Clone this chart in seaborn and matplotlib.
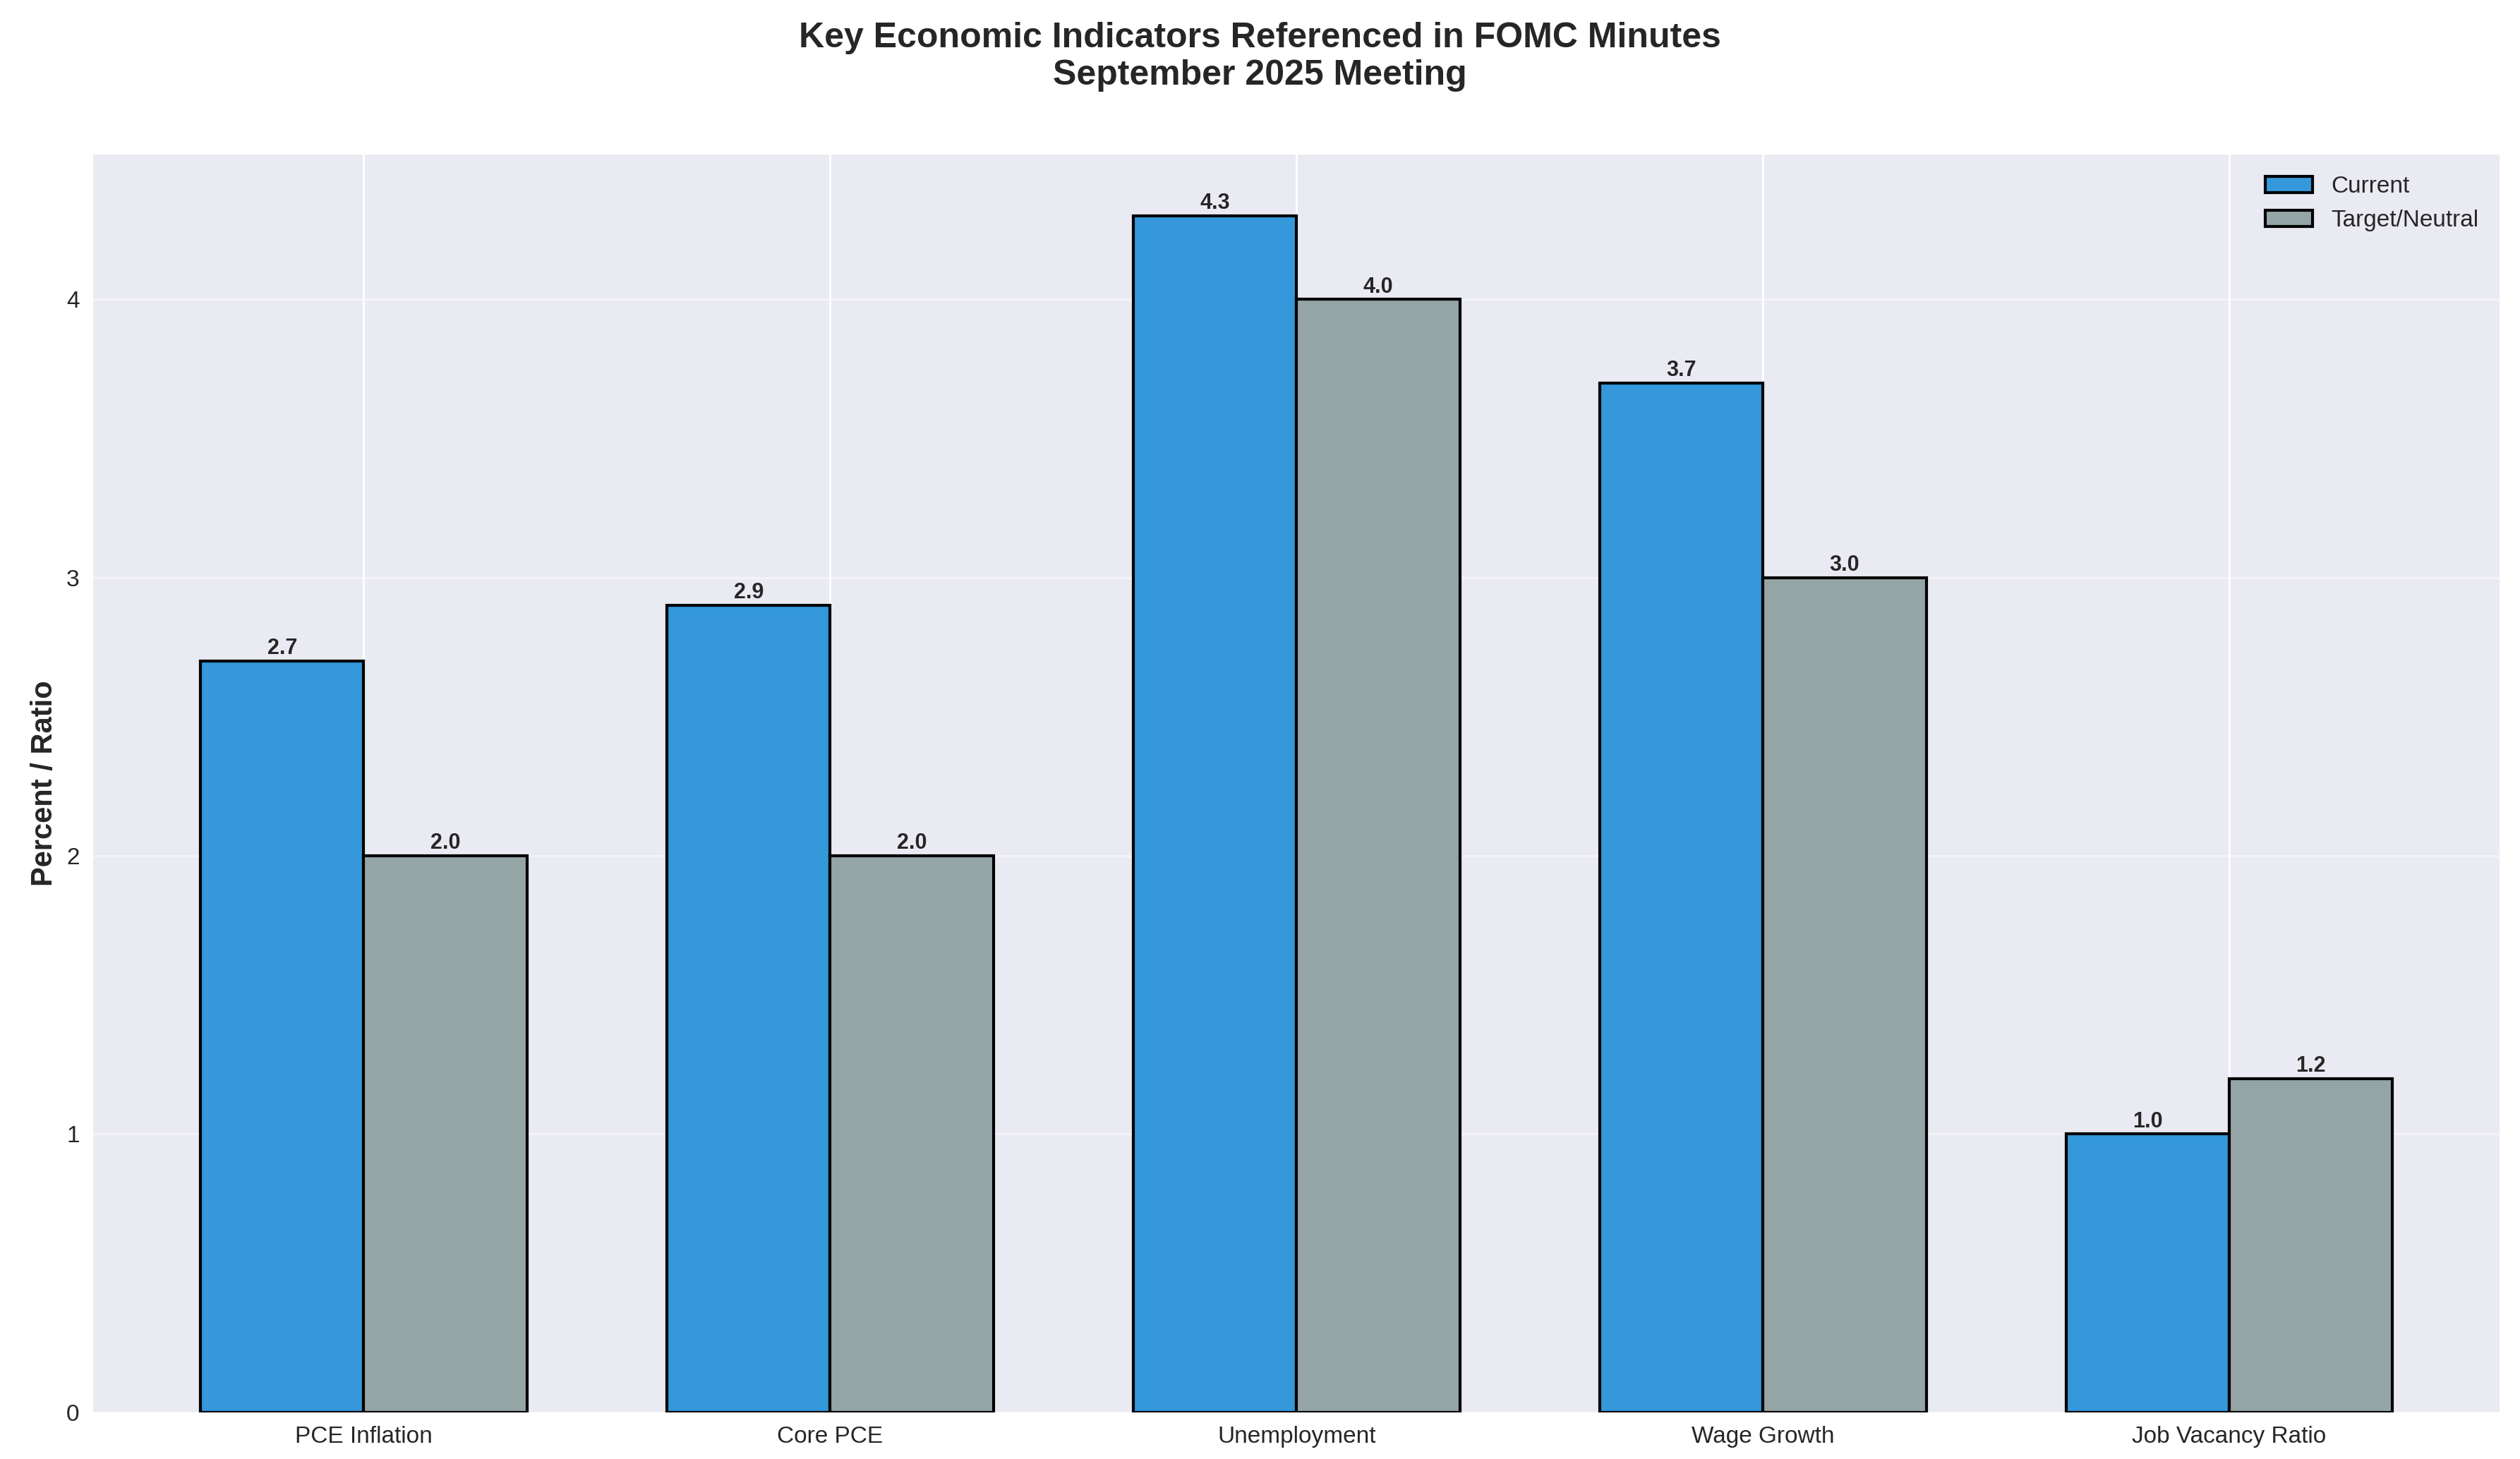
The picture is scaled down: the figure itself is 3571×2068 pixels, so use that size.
import matplotlib
matplotlib.use("Agg")
import matplotlib.pyplot as plt
import seaborn as sns
import pandas as pd

categories = ["PCE Inflation", "Core PCE", "Unemployment", "Wage Growth", "Job Vacancy Ratio"]
current = [2.7, 2.9, 4.3, 3.7, 1.0]
target = [2.0, 2.0, 4.0, 3.0, 1.2]

sns.set_style("darkgrid", {"axes.facecolor": "#eaeaf2", "grid.color": "white"})
plt.rcParams["font.family"] = ["Liberation Sans", "DejaVu Sans"]

df = pd.DataFrame({
    "Indicator": categories * 2,
    "Value": current + target,
    "Series": ["Current"] * 5 + ["Target/Neutral"] * 5,
})

fig = plt.figure(figsize=(17.855, 10.34), dpi=200)
ax = fig.add_axes([0.037, 0.032, 0.955, 0.862])
sns.barplot(data=df, x="Indicator", y="Value", hue="Series", ax=ax,
            palette={"Current": "#3498db", "Target/Neutral": "#95a5a6"},
            width=0.7, saturation=1, edgecolor="black", linewidth=1.5)
for c in ax.containers:
    lab = c.get_label()
    for p in c.patches:
        if lab == "Target/Neutral":
            p.set_alpha(0.8)
    ax.bar_label(c, fmt="%.1f", fontsize=11, fontweight="bold", padding=1)
for p in ax.patches:
    if p.get_facecolor()[:3] != (0, 0, 0):
        pass

ax.set_ylim(0, 4.52)
ax.set_yticks([0, 1, 2, 3, 4])
ax.set_xlim(-0.58, 4.58)
ax.set_xlabel("")
ax.set_ylabel("Percent / Ratio", fontsize=15, fontweight="bold")
ax.tick_params(labelsize=12)
ax.grid(True, color="white", linewidth=1)
ax.grid(True, axis="y", color="white", alpha=0.5)
for s in ax.spines.values():
    s.set_visible(False)
leg = ax.legend(title=None, fontsize=12, loc="upper right", frameon=False)
for h in leg.legend_handles:
    h.set_edgecolor("black")
fig.suptitle("Key Economic Indicators Referenced in FOMC Minutes\nSeptember 2025 Meeting",
             fontsize=18, fontweight="bold", y=0.985)
fig.savefig("out.png", dpi=200)
